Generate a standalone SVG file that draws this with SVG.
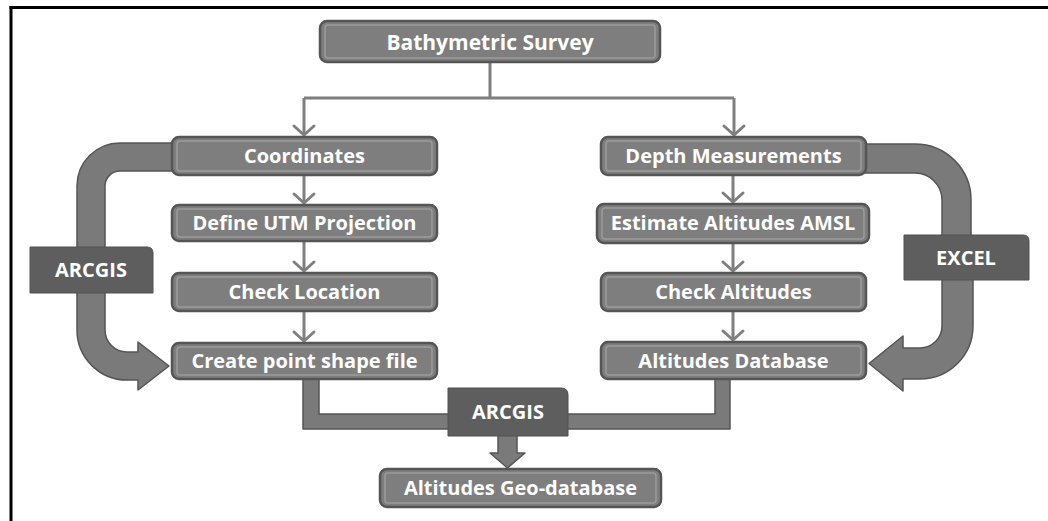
<svg xmlns="http://www.w3.org/2000/svg" width="1048" height="521" viewBox="0 0 1048 521">
<style>
.box{fill:#7e7e7e;stroke:#555;stroke-width:2.5}
.bevel{fill:none;stroke:#9c9c9c;stroke-width:1.5}
.lbl{fill:#5e5e5e;stroke:#505050;stroke-width:1}
.t{font-family:"Open Sans","DejaVu Sans",sans-serif;font-weight:bold;font-size:20px;fill:#fff;text-anchor:middle}
.con{fill:none;stroke:#7f7f7f;stroke-width:3}
.band{fill:#7a7a7a;stroke:#555;stroke-width:1.5;stroke-linejoin:round}
</style>
<defs>
<marker id="chev" markerUnits="userSpaceOnUse" markerWidth="24" markerHeight="24" viewBox="-12 -12 24 24" refX="0" refY="0" orient="auto" overflow="visible">
<path d="M-9,-10 L0,0 L-9,10" fill="none" stroke="#7f7f7f" stroke-width="3" stroke-linecap="round" stroke-linejoin="round"/>
</marker>
</defs>
<rect width="1048" height="521" fill="#fff"/>
<g id="frame">
<line x1="9.5" y1="7.5" x2="1048" y2="7.5" stroke="#000" stroke-width="3"/>
<line x1="11" y1="6" x2="11" y2="521" stroke="#000" stroke-width="3"/>
</g>
<g id="connectors">
<path class="con" d="M490,62 V98"/>
<path class="con" d="M304,98 H734"/>
<path class="con" d="M304,98 V135" marker-end="url(#chev)"/>
<path class="con" d="M734,98 V135" marker-end="url(#chev)"/>
<path class="con" d="M304,176 V203" marker-end="url(#chev)"/>
<path class="con" d="M304,241 V271" marker-end="url(#chev)"/>
<path class="con" d="M304,312 V341" marker-end="url(#chev)"/>
<path class="con" d="M733,176 V202" marker-end="url(#chev)"/>
<path class="con" d="M733,244 V271" marker-end="url(#chev)"/>
<path class="con" d="M733,312 V340" marker-end="url(#chev)"/>
<path class="band" d="M174,143 L120,143 A43,43 0 0 0 77,186 L77,248 L105,248 L105,186 A15,15 0 0 1 120,171 L174,171 Z"/>
<path class="band" d="M77,292 L77,330 A50,50 0 0 0 127,380 L138,380 L138,390 L169,366 L138,342 L138,352 L127,352 A22,22 0 0 1 105,330 L105,292 Z"/>
<path class="band" d="M864,144 L915,144 A56,56 0 0 1 971,200 L971,236 L942,236 L942,200 A27,27 0 0 0 915,173 L864,173 Z"/>
<path class="band" d="M942,279 L973,279 L973,326 A53,53 0 0 1 920,379 L903,379 L903,391 L869,363.5 L903,336 L903,348 L920,348 A22,22 0 0 0 942,326 Z"/>
<path class="band" d="M303,377 V429 H449 V414 H319 V377 Z"/>
<path class="band" d="M730,377 V429 H567 V414 H715 V377 Z"/>
<path class="band" d="M498,435 V453 H490 L507.5,468 L525,453 H517 V435 Z"/>
</g>
<g id="n-bathymetric">
<rect class="box" x="320" y="21" width="340" height="41" rx="7"/>
<rect class="bevel" x="325" y="25" width="330" height="33" rx="3"/>
<text class="t" x="490" y="50" style="font-size:21px">Bathymetric Survey</text>
</g>
<g id="n-coordinates">
<rect class="box" x="172" y="137" width="265" height="38" rx="7"/>
<rect class="bevel" x="177" y="141" width="255" height="30" rx="3"/>
<text class="t" x="304.5" y="163">Coordinates</text>
</g>
<g id="n-utm">
<rect class="box" x="172" y="205" width="265" height="36" rx="7"/>
<rect class="bevel" x="177" y="209" width="255" height="28" rx="3"/>
<text class="t" x="304.5" y="230">Define UTM Projection</text>
</g>
<g id="n-checkloc">
<rect class="box" x="172" y="273" width="265" height="38" rx="7"/>
<rect class="bevel" x="177" y="277" width="255" height="30" rx="3"/>
<text class="t" x="304.5" y="299">Check Location</text>
</g>
<g id="n-shape">
<rect class="box" x="172" y="343" width="265" height="36" rx="7"/>
<rect class="bevel" x="177" y="347" width="255" height="28" rx="3"/>
<text class="t" x="304.5" y="368">Create point shape file</text>
</g>
<g id="n-depth">
<rect class="box" x="601" y="137" width="265" height="38" rx="7"/>
<rect class="bevel" x="606" y="141" width="255" height="30" rx="3"/>
<text class="t" x="733.5" y="163">Depth Measurements</text>
</g>
<g id="n-estimate">
<rect class="box" x="597" y="204" width="272" height="39" rx="7"/>
<rect class="bevel" x="602" y="208" width="262" height="31" rx="3"/>
<text class="t" x="733" y="230">Estimate Altitudes AMSL</text>
</g>
<g id="n-checkalt">
<rect class="box" x="601" y="273" width="265" height="38" rx="7"/>
<rect class="bevel" x="606" y="277" width="255" height="30" rx="3"/>
<text class="t" x="733.5" y="299">Check Altitudes</text>
</g>
<g id="n-altdb">
<rect class="box" x="601" y="342" width="265" height="37" rx="7"/>
<rect class="bevel" x="606" y="346" width="255" height="29" rx="3"/>
<text class="t" x="733.5" y="368">Altitudes Database</text>
</g>
<g id="n-geodb">
<rect class="box" x="380" y="469" width="281" height="38" rx="7"/>
<rect class="bevel" x="385" y="473" width="271" height="30" rx="3"/>
<text class="t" x="520.5" y="495">Altitudes Geo-database</text>
</g>
<g id="l-arcgis-left">
<path class="lbl" d="M30,247 H147 Q153,247 153,253 V293 H30 Z"/>
<text class="t" x="91" y="277">ARCGIS</text>
</g>
<g id="l-excel">
<path class="lbl" d="M904,235 H1023 Q1029,235 1029,241 V280 H904 Z"/>
<text class="t" x="966" y="265">EXCEL</text>
</g>
<g id="l-arcgis-bottom">
<path class="lbl" d="M448,388 H561 Q568,388 568,395 V436 H448 Z"/>
<text class="t" x="508" y="419">ARCGIS</text>
</g>
</svg>
